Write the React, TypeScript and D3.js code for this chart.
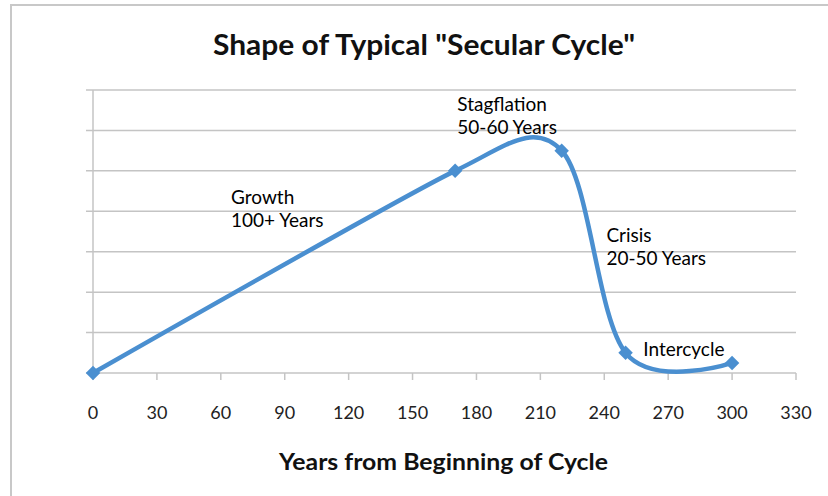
import React from "react";
import * as d3 from "d3";

const years = [0, 170, 220, 250, 300];
const levels = [0, 5, 5.5, 0.5, 0.25];
const xTicks = [0, 30, 60, 90, 120, 150, 180, 210, 240, 270, 300, 330];
const yTicks = [0, 1, 2, 3, 4, 5, 6, 7];
const title = 'Shape of Typical "Secular Cycle"';
const xTitle = "Years from Beginning of Cycle";
const annotations = [
  { lines: ["Growth", "100+ Years"], x: 64.8, y: 4.18 },
  { lines: ["Stagflation", "50-60 Years"], x: 171, y: 6.48 },
  { lines: ["Crisis", "20-50 Years"], x: 241, y: 3.23 },
  { lines: ["Intercycle"], x: 258.3, y: 0.41 },
];

const W = 828;
const H = 496;
const left = 93;
const right = 796;
const top = 90;
const bottom = 373;
const blue = "#4a8fd0";
const grid = "#c4c4c4";

// Excel-like smoothed line: Catmull-Rom arms (1/6) limited to half of adjacent segments
function smoothPath(p: [number, number][]): string {
  const path = d3.path();
  const n = p.length;
  const dist = (a: [number, number], b: [number, number]) =>
    Math.hypot(b[0] - a[0], b[1] - a[1]);
  const arm = (i: number): [number, number] => {
    if (i === 0 || i === n - 1) return [0, 0];
    const a = p[i - 1];
    const b = p[i + 1];
    const v: [number, number] = [(b[0] - a[0]) / 6, (b[1] - a[1]) / 6];
    const len = Math.hypot(v[0], v[1]);
    const lim = Math.min(dist(a, p[i]) / 2, dist(p[i], b) / 2);
    const s = len > lim ? lim / len : 1;
    return [v[0] * s, v[1] * s];
  };
  path.moveTo(p[0][0], p[0][1]);
  for (let i = 0; i < n - 1; i++) {
    const a1 = arm(i);
    const a2 = arm(i + 1);
    path.bezierCurveTo(
      p[i][0] + a1[0],
      p[i][1] + a1[1],
      p[i + 1][0] - a2[0],
      p[i + 1][1] - a2[1],
      p[i + 1][0],
      p[i + 1][1]
    );
  }
  return path.toString();
}

export default function App() {
  const x = d3.scaleLinear().domain([0, 330]).range([left, right]);
  const y = d3.scaleLinear().domain([0, 7]).range([bottom, top]);
  const pts: [number, number][] = years.map((v, i) => [x(v), y(levels[i])]);
  const diamond = d3.symbol().type(d3.symbolSquare).size(105)();
  const annFont = "Lato, 'Open Sans', sans-serif";
  return (
    <svg
      width={W}
      height={H}
      style={{ position: "absolute", left: 0, top: 0, background: "#fff" }}
    >
      <rect x={0} y={0} width={W} height={H} fill="#fff" />
      <rect x={11} y={5} width={840} height={520} fill="none" stroke="#c8c8c8" strokeWidth={2} />
      <text
        x={424}
        y={55}
        textAnchor="middle"
        fontFamily="Lato, sans-serif"
        fontWeight="bold"
        fontSize={28}
        textLength={422}
        lengthAdjust="spacingAndGlyphs"
        fill="#111"
      >
        {title}
      </text>
      {yTicks.map((t) => (
        <line
          key={"g" + t}
          x1={left - 7}
          x2={right}
          y1={y(t)}
          y2={y(t)}
          stroke={grid}
          strokeWidth={1.5}
        />
      ))}
      <line x1={left} x2={left} y1={top} y2={bottom} stroke={grid} strokeWidth={1.5} />
      {xTicks.map((t) => (
        <g key={"x" + t}>
          <line x1={x(t)} x2={x(t)} y1={bottom} y2={bottom + 7} stroke={grid} strokeWidth={1.5} />
          <text
            x={x(t)}
            y={419}
            textAnchor="middle"
            fontFamily="Lato, sans-serif"
            fontSize={18}
            fill="#222"
          >
            {t}
          </text>
        </g>
      ))}
      <text
        x={443.5}
        y={470}
        textAnchor="middle"
        fontFamily="Lato, sans-serif"
        fontWeight="bold"
        fontSize={22}
        textLength={329}
        lengthAdjust="spacingAndGlyphs"
        fill="#111"
      >
        {xTitle}
      </text>
      <path d={smoothPath(pts)} fill="none" stroke={blue} strokeWidth={4.5} />
      {pts.map((p, i) => (
        <path
          key={"m" + i}
          d={diamond || ""}
          transform={`translate(${p[0]},${p[1]}) rotate(45)`}
          fill={blue}
        />
      ))}
      {annotations.map((a, i) => (
        <text
          key={"a" + i}
          x={x(a.x)}
          y={y(a.y)}
          fontFamily={annFont}
          fontSize={19}
          fill="#000"
        >
          {a.lines.map((l, j) => (
            <tspan key={j} x={x(a.x)} dy={j === 0 ? 0 : 23}>
              {l}
            </tspan>
          ))}
        </text>
      ))}
    </svg>
  );
}
